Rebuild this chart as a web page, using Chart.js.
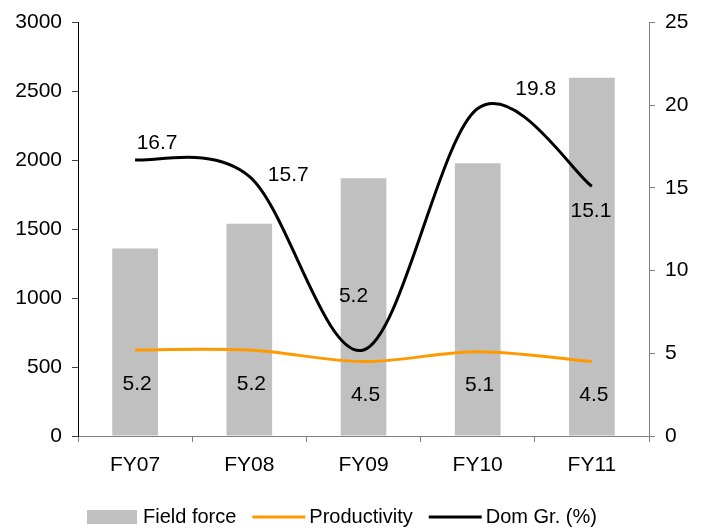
<!DOCTYPE html>
<html>
<head>
<meta charset="utf-8">
<title>Field force, productivity and domestic growth</title>
<script src="https://cdn.jsdelivr.net/npm/chart.js@4/dist/chart.umd.min.js"></script>
<style>
  html, body { margin: 0; padding: 0; background: #ffffff; }
  #wrap { width: 703px; height: 530px; }
</style>
</head>
<body>
<div id="wrap"><canvas id="chart" width="703" height="530"></canvas></div>
<script>
// Fiscal years on the category axis
const categories = ['FY07', 'FY08', 'FY09', 'FY10', 'FY11'];
// Field force (headcount, left axis)
const fieldForce = [1360, 1540, 1870, 1980, 2600];
// Productivity (right axis)
const productivity = [5.2, 5.2, 4.5, 5.1, 4.5];
// Domestic growth, % (right axis)
const domGrowth = [16.7, 15.7, 5.2, 19.8, 15.1];
// Axis ranges and tick steps
const leftAxis = { min: 0, max: 3000, step: 500 };
const rightAxis = { min: 0, max: 25, step: 5 };

const FONT = '"Liberation Sans", Arial, Helvetica, sans-serif';
const TICK_SIZE = 21;
const LEGEND_SIZE = 20;

// Label placement relative to each point (text centre offset, px)
const labelOffsets = {
  dom: [[22, -17], [39, -1], [-10, -54], [58, -19], [-1, 25]],
  prod: [[2, 34], [2, 34], [2, 34], [2, 34], [2, 34]]
};

// Smooth lines with Catmull-Rom style control points (1/6 of the neighbour span)
const smoothLines = {
  id: 'smoothLines',
  beforeDatasetDraw(chart, args) {
    const ds = chart.data.datasets[args.index];
    if (ds.type !== 'line') return;
    const meta = args.meta;
    const line = meta.dataset;
    if (line && typeof line.updateControlPoints === 'function') {
      line.updateControlPoints(chart.chartArea, meta.iScale.axis);
    }
    const pts = meta.data;
    const n = pts.length;
    for (let i = 0; i < n; i++) {
      const p = pts[i];
      const prev = pts[Math.max(i - 1, 0)];
      const next = pts[Math.min(i + 1, n - 1)];
      const dx = (next.x - prev.x) / 6;
      const dy = (next.y - prev.y) / 6;
      p.cp1x = p.x - dx; p.cp1y = p.y - dy;
      p.cp2x = p.x + dx; p.cp2y = p.y + dy;
    }
  }
};

// Value labels beside the line points
const valueLabels = {
  id: 'valueLabels',
  afterDatasetsDraw(chart) {
    const ctx = chart.ctx;
    ctx.save();
    ctx.font = TICK_SIZE + 'px ' + FONT;
    ctx.fillStyle = '#000000';
    ctx.textAlign = 'center';
    ctx.textBaseline = 'middle';
    chart.data.datasets.forEach((ds, i) => {
      const key = ds.labelKey;
      if (!key) return;
      const meta = chart.getDatasetMeta(i);
      meta.data.forEach((pt, j) => {
        const off = labelOffsets[key][j];
        ctx.fillText(ds.data[j].toFixed(1), pt.x + off[0], pt.y + off[1]);
      });
    });
    ctx.restore();
  }
};

// Legend row along the bottom edge
const bottomLegend = {
  id: 'bottomLegend',
  afterDraw(chart) {
    const ctx = chart.ctx;
    ctx.save();
    ctx.font = LEGEND_SIZE + 'px ' + FONT;
    ctx.textBaseline = 'middle';
    ctx.textAlign = 'left';
    const cy = 517;
    let x = 87;
    const items = [0, 1, 2].map(i => chart.data.datasets.find(d => d.legendIndex === i));
    items.forEach(ds => {
      if (ds.type === 'bar') {
        ctx.fillStyle = ds.backgroundColor;
        ctx.fillRect(x, cy - 7, 50, 14);
        x += 50 + 6;
      } else {
        ctx.strokeStyle = ds.borderColor;
        ctx.lineWidth = 3;
        ctx.beginPath();
        ctx.moveTo(x, cy);
        ctx.lineTo(x + 53, cy);
        ctx.stroke();
        x += 53 + 4;
      }
      ctx.fillStyle = '#000000';
      ctx.fillText(ds.label, x, cy);
      x += ctx.measureText(ds.label).width + 16;
    });
    ctx.restore();
  }
};

const plainNumber = v => String(v);

new Chart(document.getElementById('chart'), {
  data: {
    labels: categories,
    datasets: [
      {
        type: 'line',
        label: 'Dom Gr. (%)',
        legendIndex: 2,
        labelKey: 'dom',
        data: domGrowth,
        yAxisID: 'y1',
        borderColor: '#000000',
        borderWidth: 3,
        pointRadius: 0,
        tension: 0.4,
        fill: false,
        order: 1
      },
      {
        type: 'line',
        label: 'Productivity',
        legendIndex: 1,
        labelKey: 'prod',
        data: productivity,
        yAxisID: 'y1',
        borderColor: '#ff9900',
        borderWidth: 3,
        pointRadius: 0,
        tension: 0.4,
        fill: false,
        order: 2
      },
      {
        type: 'bar',
        label: 'Field force',
        legendIndex: 0,
        data: fieldForce,
        yAxisID: 'y',
        backgroundColor: '#c0c0c0',
        borderWidth: 0,
        barPercentage: 0.4,
        categoryPercentage: 1.0,
        order: 3
      }
    ]
  },
  options: {
    responsive: false,
    animation: false,
    devicePixelRatio: 1,
    layout: { padding: { top: 20, bottom: 44, left: 0, right: 0 } },
    plugins: {
      legend: { display: false },
      tooltip: { enabled: false }
    },
    scales: {
      x: {
        type: 'category',
        offset: true,
        grid: { display: true, drawOnChartArea: false, drawTicks: true, tickLength: 6, color: '#808080', offset: true },
        border: { display: true, color: '#808080', width: 1 },
        ticks: { color: '#000000', padding: 11, font: { family: FONT, size: TICK_SIZE }, maxRotation: 0 },
        afterFit: s => { s.height = 50; }
      },
      y: {
        position: 'left',
        min: leftAxis.min,
        max: leftAxis.max,
        grid: { display: true, drawOnChartArea: false, drawTicks: true, tickLength: 6, color: '#404040' },
        border: { display: true, color: '#000000', width: 1 },
        ticks: { stepSize: leftAxis.step, color: '#000000', padding: 10, font: { family: FONT, size: TICK_SIZE }, callback: plainNumber },
        afterFit: s => { s.width = 78; }
      },
      y1: {
        position: 'right',
        min: rightAxis.min,
        max: rightAxis.max,
        grid: { display: true, drawOnChartArea: false, drawTicks: true, tickLength: 6, color: '#808080' },
        border: { display: true, color: '#808080', width: 1 },
        ticks: { stepSize: rightAxis.step, color: '#000000', padding: 10, font: { family: FONT, size: TICK_SIZE }, callback: plainNumber },
        afterFit: s => { s.width = 54; }
      }
    }
  },
  plugins: [smoothLines, valueLabels, bottomLegend]
});
</script>
</body>
</html>
